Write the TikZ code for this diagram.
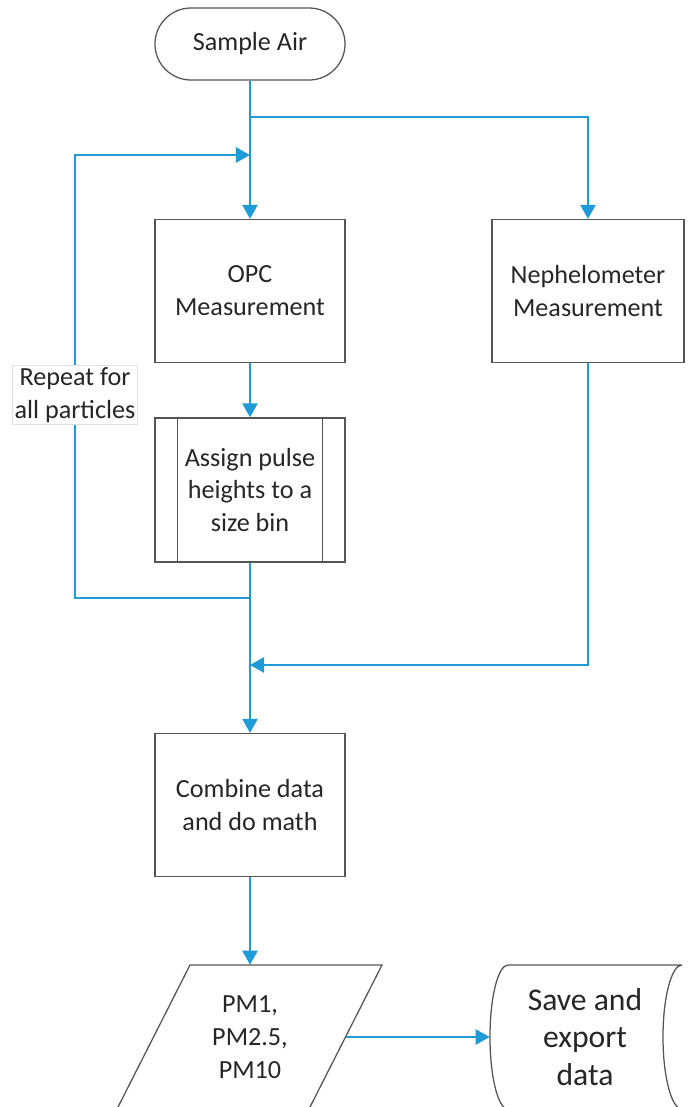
\documentclass[tikz,border=0pt]{standalone}
\usepackage{fontspec}
\setmainfont{Carlito}
\usetikzlibrary{arrows.meta,shapes.misc}
\definecolor{flowblue}{RGB}{31,155,216}
\definecolor{boxgray}{RGB}{85,85,85}
\tikzset{
  every node/.style = {font=\fontsize{18.6}{23.4}\selectfont,text=black!85},
  process/.style = {draw=boxgray,line width=0.9pt,minimum width=4.75cm,
    minimum height=3.575cm,align=center,inner sep=0pt},
  terminal/.style = {process,rounded rectangle,minimum height=1.8cm},
  flow/.style = {draw=flowblue,line width=1.3pt},
  outline/.style = {draw=boxgray,line width=0.9pt}
}
\tikzset{>={Triangle[length=0.35cm,width=0.38cm]}}

\begin{document}
\begin{tikzpicture}[x=0.025cm,y=0.025cm]
  \clip (0,0) rectangle (690,-1107);
  % steps
  \node[terminal] (air) at (250,-44) {Sample Air};
  \node[process] (opc) at (250,-291) {OPC\\Measurement};
  \node[process,minimum width=4.8cm] (neph) at (588,-291) {Nephelometer\\Measurement};
  \node[process,minimum height=3.6cm] (assign) at (250,-490) {Assign pulse\\heights to a\\size bin};
  \draw[outline] ([xshift=0.575cm]assign.north west) -- ([xshift=0.575cm]assign.south west)
                 ([xshift=-0.575cm]assign.north east) -- ([xshift=-0.575cm]assign.south east);
  \node[process] (combine) at (250,-805) {Combine data\\and do math};
  % output and storage
  \draw[outline] (190,-965) -- (382,-965) -- (308.5,-1110) -- (116.5,-1110) -- cycle;
  \node[align=center,minimum width=4.775cm,minimum height=3.6cm] (pm) at (250,-1037) {PM1,\\PM2.5,\\PM10};
  \draw[outline] (682,-965) -- (508,-965)
    arc[start angle=90,end angle=270,x radius=0.45cm,y radius=1.8cm] -- (682,-1109)
    arc[start angle=270,end angle=90,x radius=0.475cm,y radius=1.8cm];
  \node[align=center,minimum width=4.75cm,font=\fontsize{22.5}{26.6}\selectfont] (save) at (585,-1037) {Save and\\export\\data};
  % flow
  \coordinate (split) at (250,-117);
  \coordinate (loopin) at (250,-155);
  \coordinate (looptl) at (75,-155);
  \coordinate (loopbl) at (75,-598);
  \coordinate (back) at (250,-598);
  \coordinate (join) at (250,-665);
  \draw[flow,->] (air) -- (opc);
  \draw[flow,->] (split) -| (neph);
  \draw[flow,->] (opc) -- (assign);
  \draw[flow,->] (assign) -- (combine);
  \draw[flow,->] (back) -- (loopbl) -- (looptl) -- (loopin);
  \draw[flow,->] (neph) |- (join);
  \draw[flow,->] (combine) -- (pm);
  \draw[flow,->] (pm) -- (save);
  % loop label
  \node[fill=white,draw=black!12,align=center,inner sep=1.5pt] (repeat) at (75,-395) {Repeat for\\all particles};
\end{tikzpicture}
\end{document}
